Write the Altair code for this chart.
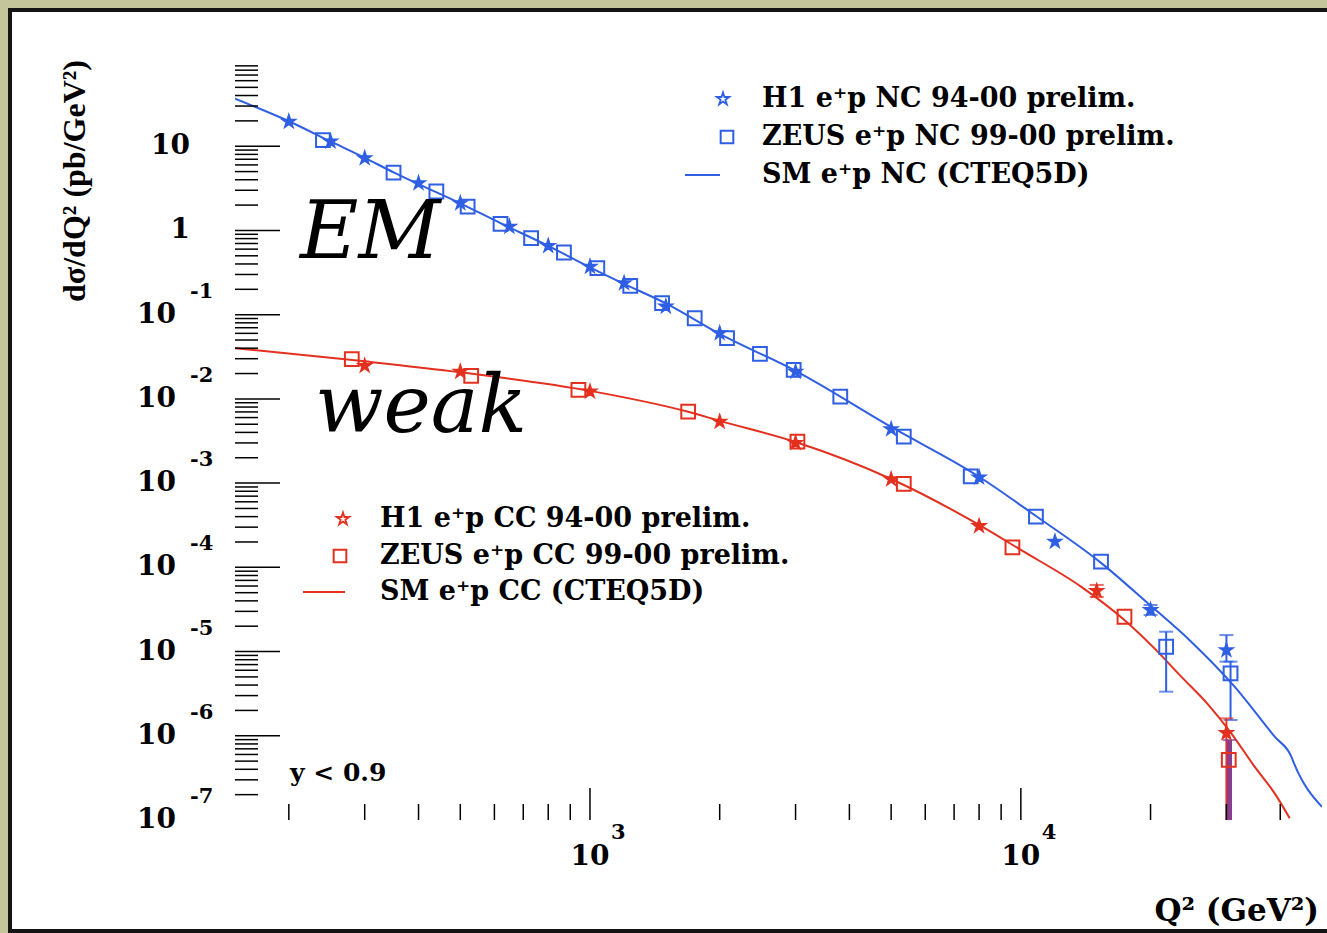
import altair as alt
import pandas as pd

# ---------------- data ----------------
# Standard Model curves (Q^2 in GeV^2, dsigma/dQ^2 in pb/GeV^2)
nc_curve_q2 = [150, 200, 250, 300, 350, 400, 500, 618, 800, 1000, 1200, 1500, 2000, 3000,
               5000, 8000, 10840, 15350, 19710, 24850, 31340, 38830, 42450, 43210, 50000]
nc_curve_sig = [36.6, 19.8, 11.4, 7.28, 4.90, 3.55, 2.10, 1.23, 0.656, 0.365, 0.232, 0.136,
                0.0591, 0.0215, 0.00464, 0.00119, 4.07e-4, 1.13e-4, 3.75e-5, 1.31e-5,
                3.83e-6, 9.75e-7, 5.65e-7, 4.50e-7, 1.43e-7]

cc_curve_q2 = [150, 300, 500, 1000, 1690, 2000, 3000, 5000, 8000, 10000, 13790, 17390,
               20420, 23560, 27180, 30790, 34880, 38830, 42070]
cc_curve_sig = [0.0400, 0.0279, 0.0207, 0.01245, 0.00702, 0.00548, 0.00308, 0.00112,
                3.19e-4, 1.61e-4, 5.90e-5, 2.37e-5, 1.09e-5, 5.04e-6, 2.36e-6, 1.07e-6,
                4.30e-7, 2.07e-7, 1.05e-7]

# H1 e+p NC 94-00 (stars)
h1_nc_q2 = [200, 250, 300, 400, 500, 650, 800, 1000, 1200, 1500, 2000, 3000, 5000, 8000,
            12000, 20000, 30000]
h1_nc_sig = [19.6, 11.4, 7.22, 3.65, 2.11, 1.11, 0.655, 0.372, 0.237, 0.125, 0.0603, 0.0211,
             0.00437, 0.00117, 2.02e-4, 3.12e-5, 1.04e-5]

# ZEUS e+p NC 99-00 (squares)
zeus_nc_q2 = [240, 350, 440, 520, 620, 730, 870, 1040, 1240, 1470, 1750, 2080, 2480, 2970,
              3810, 5350, 7650, 10840, 15350, 21740, 30670]
zeus_nc_sig = [11.8, 4.87, 2.90, 1.92, 1.20, 0.809, 0.547, 0.356, 0.220, 0.137, 0.0907,
               0.0526, 0.0342, 0.0221, 0.01064, 0.00356, 0.00120, 4.00e-4, 1.17e-4,
               1.14e-5, 5.52e-6]

# H1 e+p CC 94-00 (stars)
h1_cc_q2 = [300, 500, 1000, 2000, 3000, 5000, 8000, 15000, 30000]
h1_cc_sig = [0.0247, 0.0211, 0.01222, 0.00537, 0.00300, 0.00111, 3.10e-4, 5.25e-5, 1.08e-6]

# ZEUS e+p CC 99-00 (squares)
zeus_cc_q2 = [280, 530, 940, 1690, 3030, 5350, 9560, 17400, 30380]
zeus_cc_sig = [0.0296, 0.01875, 0.0128, 0.00706, 0.0031, 9.77e-4, 1.73e-4, 2.59e-5, 5.16e-7]

# visible error bars
nc_err_q2 = [20000, 21740, 30000, 30670]
nc_err_lo = [2.72e-5, 3.34e-6, 7.59e-6, 1.54e-6]
nc_err_hi = [3.57e-5, 1.72e-5, 1.57e-5, 7.59e-6]
cc_err_q2 = [15000, 30000]
cc_err_lo = [4.45e-5, 1e-8]
cc_err_hi = [6.18e-5, 1.61e-6]
mix_err_q2 = [30500]
mix_err_lo = [1e-8]
mix_err_hi = [8.9e-7]

# axis ticks and labels
y_major = [1e-6, 1e-5, 1e-4, 1e-3, 1e-2, 1e-1, 1, 10]
y_minor = [k * 10.0 ** e for e in range(-7, 2) for k in range(2, 10)]
x_major = [1000, 10000]
x_minor = [200, 300, 400, 500, 600, 700, 800, 900,
           2000, 3000, 4000, 5000, 6000, 7000, 8000, 9000, 20000, 30000, 40000]
y_plain_vals = [10, 1]
y_plain_text = ["10", "1"]
y_exp_vals = [0.1, 0.01, 1e-3, 1e-4, 1e-5, 1e-6, 1e-7]
y_exp_text = ["-1", "-2", "-3", "-4", "-5", "-6", "-7"]
x_lab_vals = [1000, 10000]
x_exp_text = ["3", "4"]

# ---------------- styling ----------------
BLUE = "#2f5fe3"
RED = "#e3301f"
PURPLE = "#8a3c8e"
SERIF = "DejaVu Serif"
STAR = ("M0,-1L0.2245,-0.309L0.951,-0.309L0.363,0.118L0.588,0.809L0,0.382"
        "L-0.588,0.809L-0.363,0.118L-0.951,-0.309L-0.2245,-0.309Z")
W, H = 1087, 758

xs = alt.Scale(type="log", domain=[150, 50000])
ys = alt.Scale(type="log", domain=[1e-7, 100])


def X(f="q2"):
    return alt.X(f"{f}:Q", scale=xs, axis=None)


def Y(f="sigma"):
    return alt.Y(f"{f}:Q", scale=ys, axis=None)


def pts(q, s):
    return pd.DataFrame({"q2": q, "sigma": s})


def errs(q, lo, hi):
    return pd.DataFrame({"q2": q, "lo": lo, "hi": hi})


layers = []

# white panel with dark frame (decoration)
layers.append(alt.Chart(pd.DataFrame({"a": [0]})).mark_rect(
    fill="white", stroke="#151515", strokeWidth=4).encode(
    x=alt.value(-225), x2=alt.value(W + 40), y=alt.value(-52), y2=alt.value(H + 111)))

# curves
layers.append(alt.Chart(pts(nc_curve_q2, nc_curve_sig)).mark_line(
    color=BLUE, strokeWidth=2, clip=True, interpolate="monotone").encode(x=X(), y=Y()))
layers.append(alt.Chart(pts(cc_curve_q2, cc_curve_sig)).mark_line(
    color=RED, strokeWidth=2, clip=True, interpolate="monotone").encode(x=X(), y=Y()))

# error bars
for q, lo, hi, col, w in [(nc_err_q2, nc_err_lo, nc_err_hi, BLUE, 2),
                          (cc_err_q2, cc_err_lo, cc_err_hi, RED, 2),
                          (mix_err_q2, mix_err_lo, mix_err_hi, PURPLE, 5)]:
    d = errs(q, lo, hi)
    layers.append(alt.Chart(d).mark_rule(color=col, strokeWidth=w, clip=True).encode(
        x=X(), y=Y("lo"), y2="hi:Q"))
    layers.append(alt.Chart(d).mark_tick(color=col, orient="horizontal", size=14,
                                         thickness=2, clip=True).encode(x=X(), y=Y("hi")))
    layers.append(alt.Chart(d).mark_tick(color=col, orient="horizontal", size=14,
                                         thickness=2, clip=True).encode(x=X(), y=Y("lo")))

# data points
for q, s, col in [(zeus_nc_q2, zeus_nc_sig, BLUE), (zeus_cc_q2, zeus_cc_sig, RED)]:
    layers.append(alt.Chart(pts(q, s)).mark_point(
        shape="square", filled=False, size=190, strokeWidth=2, color=col, opacity=1,
        clip=True).encode(x=X(), y=Y()))
for q, s, col in [(h1_nc_q2, h1_nc_sig, BLUE), (h1_cc_q2, h1_cc_sig, RED)]:
    layers.append(alt.Chart(pts(q, s)).mark_point(
        shape=STAR, filled=True, size=200, strokeWidth=1.5, stroke=col, color=col, opacity=1,
        clip=True).encode(x=X(), y=Y()))

# ticks (inside, ROOT style)
layers.append(alt.Chart(pd.DataFrame({"v": y_major})).mark_rule(color="black", strokeWidth=1.5)
              .encode(y=Y("v"), x=alt.value(0), x2=alt.value(45)))
layers.append(alt.Chart(pd.DataFrame({"v": y_minor})).mark_rule(color="black", strokeWidth=1.5)
              .encode(y=Y("v"), x=alt.value(0), x2=alt.value(23)))
layers.append(alt.Chart(pd.DataFrame({"v": x_major})).mark_rule(color="black", strokeWidth=1.5)
              .encode(x=X("v"), y=alt.value(H), y2=alt.value(H - 32)))
layers.append(alt.Chart(pd.DataFrame({"v": x_minor})).mark_rule(color="black", strokeWidth=1.5)
              .encode(x=X("v"), y=alt.value(H), y2=alt.value(H - 16)))

# tick labels
lab = dict(font=SERIF, fontWeight="bold", color="black", baseline="middle")
layers.append(alt.Chart(pd.DataFrame({"v": y_plain_vals, "t": y_plain_text})).mark_text(
    align="right", fontSize=28, **lab).encode(y=Y("v"), x=alt.value(-45), text="t:N"))
layers.append(alt.Chart(pd.DataFrame({"v": y_exp_vals, "t": ["10"] * len(y_exp_vals)})).mark_text(
    align="right", fontSize=28, **lab).encode(y=Y("v"), x=alt.value(-59), text="t:N"))
layers.append(alt.Chart(pd.DataFrame({"v": y_exp_vals, "t": y_exp_text})).mark_text(
    align="left", fontSize=21, dy=-23, **lab).encode(y=Y("v"), x=alt.value(-45), text="t:N"))
layers.append(alt.Chart(pd.DataFrame({"v": x_lab_vals, "t": ["10"] * len(x_lab_vals)})).mark_text(
    align="center", fontSize=28, **lab).encode(x=X("v"), y=alt.value(H + 37), text="t:N"))
layers.append(alt.Chart(pd.DataFrame({"v": x_lab_vals, "t": x_exp_text})).mark_text(
    align="left", fontSize=21, dx=21, **lab).encode(x=X("v"), y=alt.value(H + 13), text="t:N"))


def note(text, x, y, **kw):
    return alt.Chart(pd.DataFrame({"t": [text]})).mark_text(**kw).encode(
        x=alt.value(x), y=alt.value(y), text="t:N")


# axis titles
layers.append(note("Q² (GeV²)", W - 3, H + 92, align="right", baseline="middle",
                   font=SERIF, fontWeight="bold", fontSize=31, color="black"))
layers.append(note("dσ/dQ² (pb/GeV²)", -160, -2, align="right", baseline="middle", angle=270,
                   font="Liberation Serif", fontWeight="bold", fontSize=32, color="black"))

# big labels
layers.append(note("EM", 65, 196, align="left", baseline="alphabetic", font=SERIF,
                   fontStyle="italic", fontSize=80, color="black"))
layers.append(note("weak", 80, 370, align="left", baseline="alphabetic", font=SERIF,
                   fontStyle="italic", fontSize=80, color="black"))
layers.append(note("y < 0.9", 55, 711, align="left", baseline="middle", font=SERIF,
                   fontWeight="bold", fontSize=25, color="black"))

# legends
leg = dict(align="left", baseline="middle", font=SERIF, fontWeight="bold", fontSize=27,
           color="black")
for txt, yy in [("H1 e⁺p NC 94-00 prelim.", 37), ("ZEUS e⁺p NC 99-00 prelim.", 75),
                ("SM e⁺p NC (CTEQ5D)", 113)]:
    layers.append(note(txt, 527, yy, **leg))
for txt, yy in [("H1 e⁺p CC 94-00 prelim.", 457), ("ZEUS e⁺p CC 99-00 prelim.", 494),
                ("SM e⁺p CC (CTEQ5D)", 530)]:
    layers.append(note(txt, 145, yy, **leg))

one = pd.DataFrame({"a": [0]})
layers.append(alt.Chart(one).mark_point(shape=STAR, filled=False, size=170, strokeWidth=1.8,
                                        color=BLUE, opacity=1)
              .encode(x=alt.value(488), y=alt.value(37)))
layers.append(alt.Chart(one).mark_point(shape="square", filled=False, size=160, strokeWidth=2,
                                        color=BLUE, opacity=1)
              .encode(x=alt.value(492), y=alt.value(75)))
layers.append(alt.Chart(one).mark_rule(color=BLUE, strokeWidth=2)
              .encode(x=alt.value(450), x2=alt.value(485), y=alt.value(113)))
layers.append(alt.Chart(one).mark_point(shape=STAR, filled=False, size=170, strokeWidth=1.8,
                                        color=RED, opacity=1)
              .encode(x=alt.value(108), y=alt.value(457)))
layers.append(alt.Chart(one).mark_point(shape="square", filled=False, size=160, strokeWidth=2,
                                        color=RED, opacity=1)
              .encode(x=alt.value(105), y=alt.value(494)))
layers.append(alt.Chart(one).mark_rule(color=RED, strokeWidth=2)
              .encode(x=alt.value(68), x2=alt.value(110), y=alt.value(530)))

chart = alt.layer(*layers).properties(
    width=W, height=H,
    padding={"left": 235, "top": 62, "right": 5, "bottom": 113},
    autosize=alt.AutoSizeParams(type="none"),
).configure(background="#c4c59a").configure_view(stroke="black", strokeWidth=2)

chart.save("out.html", embed_options={"renderer": "svg", "actions": False})
